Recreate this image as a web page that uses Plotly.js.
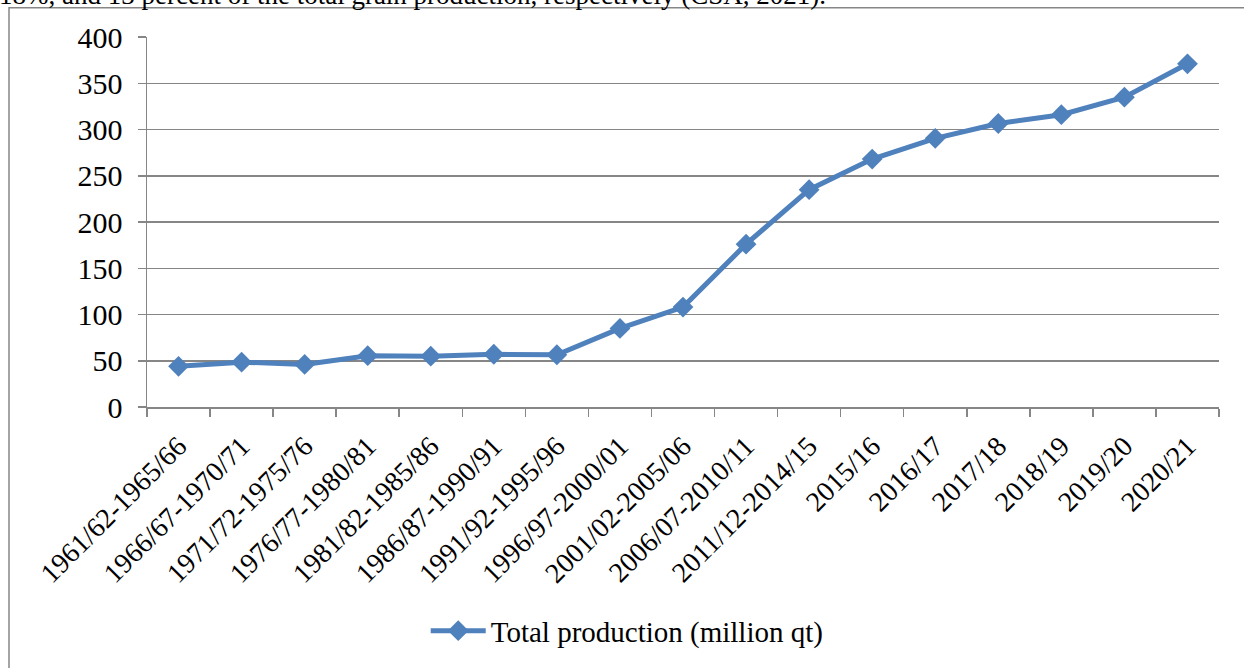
<!DOCTYPE html>
<html>
<head>
<meta charset="utf-8">
<script src="https://cdn.plot.ly/plotly-3.0.1.min.js"></script>
<style>
  html, body { margin: 0; padding: 0; background: #fff; }
  #chart { width: 1244px; height: 668px; }
</style>
</head>
<body>
<div id="chart"></div>
<script>
// Crop seasons / periods
const periods = [
  '1961/62-1965/66', '1966/67-1970/71', '1971/72-1975/76', '1976/77-1980/81',
  '1981/82-1985/86', '1986/87-1990/91', '1991/92-1995/96', '1996/97-2000/01',
  '2001/02-2005/06', '2006/07-2010/11', '2011/12-2014/15', '2015/16',
  '2016/17', '2017/18', '2018/19', '2019/20', '2020/21'
];

// Total grain production, million quintals
const totalProduction = [
  44, 48.5, 46, 55.5, 55, 57, 56.5, 85, 108, 176, 235, 268,
  290.5, 306.5, 316, 335, 371
];

const yTicks = [0, 50, 100, 150, 200, 250, 300, 350, 400];

const seriesName = 'Total production (million qt)';
const leadText = '18%, and 13 percent of the total grain production, respectively (CSA, 2021).';

const serif = '"Liberation Serif"';
const blue = '#4F81BD';
const gray = '#868686';

const trace = {
  type: 'scatter',
  mode: 'lines+markers',
  x: periods,
  y: totalProduction,
  name: seriesName,
  line: { color: blue, width: 5 },
  marker: { symbol: 'diamond', size: 16, color: blue },
  showlegend: true
};

const layout = {
  width: 1244,
  height: 668,
  margin: { l: 147, r: 25, t: 37, b: 259 },
  paper_bgcolor: '#fff',
  plot_bgcolor: '#fff',
  font: { family: serif, size: 28, color: '#000' },
  xaxis: {
    type: 'category',
    range: [-0.5, periods.length - 0.5],
    tickson: 'boundaries',
    ticks: 'outside',
    ticklen: 8,
    tickwidth: 1.5,
    tickcolor: gray,
    showline: true,
    linecolor: gray,
    linewidth: 1.5,
    showgrid: false,
    tickangle: -45,
    ticklabelstandoff: 10,
    tickfont: { family: serif, size: 28, color: '#000' },
    fixedrange: true
  },
  yaxis: {
    range: [0, 400],
    tickvals: yTicks,
    ticks: 'outside',
    ticklen: 8,
    tickwidth: 1.5,
    tickcolor: gray,
    showline: true,
    linecolor: gray,
    linewidth: 1.5,
    showgrid: true,
    gridcolor: gray,
    gridwidth: 1.5,
    zeroline: false,
    ticklabelstandoff: 9,
    tickfont: { family: serif, size: 30, color: '#000' },
    fixedrange: true
  },
  legend: {
    orientation: 'h',
    x: 0.26,
    xanchor: 'left',
    y: -0.605,
    yanchor: 'middle',
    itemwidth: 55,
    font: { family: serif, size: 29, color: '#000' }
  },
  shapes: [
    {
      type: 'rect',
      xref: 'paper', yref: 'paper',
      x0: -138 / 1072, x1: 1.2,
      y0: -1.0, y1: 1 + 29.5 / 372,
      line: { color: gray, width: 1.5 },
      fillcolor: 'rgba(0,0,0,0)',
      layer: 'below'
    }
  ],
  annotations: [
    {
      text: leadText,
      xref: 'paper', yref: 'paper',
      x: -150 / 1072, xanchor: 'left',
      y: 1 + 25 / 372, yanchor: 'bottom',
      showarrow: false,
      font: { family: serif, size: 27, color: '#000' }
    }
  ]
};

Plotly.newPlot('chart', [trace], layout, { displayModeBar: false, staticPlot: true });
</script>
</body>
</html>
